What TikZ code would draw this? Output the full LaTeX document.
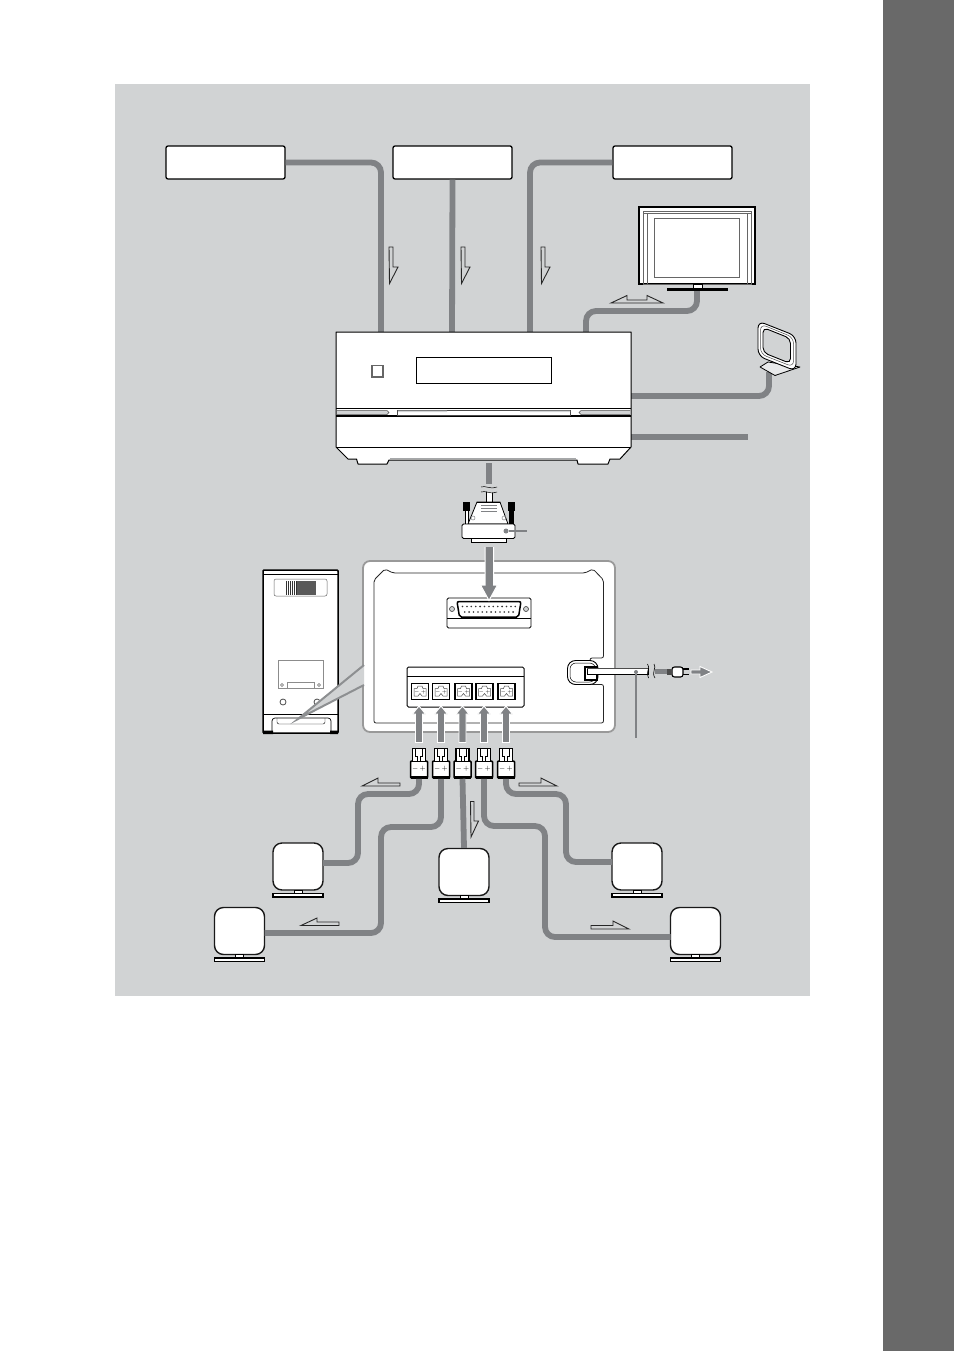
\documentclass[tikz,border=0pt]{standalone}
\usetikzlibrary{arrows.meta}
\definecolor{panelbg}{HTML}{D1D3D4}
\definecolor{cablegray}{HTML}{808285}
\definecolor{stripgray}{HTML}{696969}
\tikzset{
    srcbox/.style={draw=black, fill=white, rounded corners=2, line width=1.3, minimum width=119, minimum height=33, inner sep=0},
    cable/.style={draw=cablegray, line width=5.8, rounded corners=10},
    flowarrow/.style={draw=black!85, fill=panelbg, line width=0.9, line join=miter},
    spkbox/.style={draw=black!90, fill=white, rounded corners=9, line width=1.4, minimum width=50, minimum height=47, inner sep=0},
    plugbox/.style={draw=black, fill=white, line width=1.5, rounded corners=1, minimum width=17, minimum height=17, inner sep=0},
    sockbox/.style={draw=black, fill=white, line width=1.8, minimum width=17, minimum height=16, inner sep=0},
    feedarrow/.style={draw=white, fill=cablegray, line width=0.9, line join=miter},
    pointer/.style={draw=cablegray, line width=1.8}
}
\begin{document}
\begin{tikzpicture}[x=1pt, y=-1pt]
    \useasboundingbox (0,0) rectangle (954,1351);
    \fill [stripgray] (883,0) rectangle (954,1351);
    \fill [panelbg] (115,84) rectangle (809.5,996);

    \node [srcbox] (srcA) at (225.5,162.5) {};
    \node [srcbox] (srcB) at (452.5,162.5) {};
    \node [srcbox] (srcC) at (672.5,162.5) {};

    \coordinate (recvA) at (381,333);
    \coordinate (recvB) at (452,333);
    \coordinate (recvC) at (530,333);
    \coordinate (recvD) at (586,333);
    \coordinate (recvE) at (631,396);
    \coordinate (recvF) at (631,437);
    \coordinate (recvG) at (489,463);
    \coordinate (tvIn) at (697,291);
    \coordinate (antIn) at (769,372);
    \coordinate (lineEnd) at (748,437);
    \coordinate (breakTop) at (489,484);

    \draw [cable] (srcA.east) -| (recvA);
    \draw [cable] (srcB.south) -- (recvB);
    \draw [cable] (srcC.west) -| (recvC);
    \draw [cable] (tvIn) |- (640,311) -| (recvD);
    \draw [cable] (antIn) |- (recvE);
    \draw [cable] (recvF) -- (lineEnd);
    \draw [cable] (recvG) -- (breakTop);

    \foreach \x in {389,461,541}
        \draw [flowarrow] (\x,247) -- (\x+4,247) -- (\x+4,267) -- (\x+9,267) -- (\x+0.5,283.5) -- cycle;
    \draw [flowarrow] (611,303) -- (627,295.5) -- (627,300) -- (647,300) -- (647,295.5) -- (663,303) -- cycle;

    % receiver
    \draw [fill=white, line width=1, line join=round] (336,332) -- (631,332) -- (631,447) -- (620,459) -- (610,459) -- (608,464) -- (578,464) -- (577,460) -- (389,460) -- (387,464) -- (358,464) -- (356.5,459) -- (348,459) -- (336,447) -- cycle;
    \draw [line width=0.8] (336,447) -- (631,447);
    \draw [cablegray!70, line width=1.2] (390,458.5) -- (576,458.5);
    \draw [line width=1.4] (336,408.5) -- (631,408.5);
    \draw [line width=1.6] (336,416) -- (631,416);
    \fill [white] (337,409.5) rectangle (630,415);
    \draw [black!70, line width=0.5, fill=panelbg] (337,410.5) -- (387,410.5) -- (389,412.5) -- (387,414.5) -- (337,414.5);
    \draw [black!70, line width=0.5, fill=panelbg] (630,410.5) -- (581,410.5) -- (579,412.5) -- (581,414.5) -- (630,414.5);
    \draw [black!70, line width=0.5] (397,410) -- (570,410) -- (570,415) -- (397,415) -- cycle;
    \fill [panelbg] (398,410.5) rectangle (447,412) (520,410.5) rectangle (570,412);
    \draw [black!60, line width=1.6, fill=white] (372,365.5) rectangle (383,377);
    \draw [line width=0.7, fill=white] (416,357) rectangle (551,383);

    % cable break and connector
    \draw [fill=white, line width=0.6] (486,491) -- (486,503) -- (492,503) -- (492,491);
    \fill [panelbg] (484,486) .. controls (487,485) and (491,489) .. (496,487) -- (496,492) .. controls (491,494) and (487,490) .. (481,492) -- cycle;
    \draw [line width=0.5] (481,487) .. controls (485,485) and (491,490) .. (497,487);
    \draw [line width=0.5] (481,492) .. controls (485,490) and (491,495) .. (497,492);
    \draw [fill=black] (463,502) rectangle (469,510);
    \draw [fill=black] (508,502) rectangle (514,510);
    \draw [fill=white, line width=0.6] (465,510) rectangle (468,525);
    \draw [fill=black, line width=0.6] (509,510) rectangle (513,525);
    \draw [fill=white, line width=0.8] (477,502) -- (500,502) -- (508,524) -- (468,524) -- cycle;
    \draw [line width=1.4] (477,502.5) -- (500,502.5);
    \foreach \y in {505.5,508.5,511}
        \draw [cablegray, line width=0.9] (481,\y) -- (497,\y);
    \draw [cablegray, line width=0.5] (473,518) circle (2) (504,518) circle (2);
    \draw [fill=white, line width=0.8] (471,538) rectangle (506,542);
    \draw [fill=white, line width=0.9, rounded corners=1.5] (462,524) rectangle (515,538.5);
    \coordinate (tagEnd) at (527,531);
    \node [circle, fill=cablegray, inner sep=0, minimum size=5] (tagDot) at (506,531) {};
    \draw [pointer] (tagDot) -- (tagEnd);

    % tv
    \draw [fill=white, line width=1.6] (639,207) rectangle (755,284);
    \draw [line width=0.5, black!60] (643,211) rectangle (751,284);
    \draw [line width=0.5, black!60] (647,213) -- (647,284) (747,213) -- (747,284) (643,213) -- (751,213);
    \draw [line width=0.7, black!60] (654,218) rectangle (739,277);
    \draw [fill=white, line width=0.5] (693,284) rectangle (702,289);
    \fill [black] (667,288) rectangle (728,291);

    % antenna
    \draw [line width=0.8, fill=panelbg!50!white, line join=round] (760,367) -- (768,362) -- (800,367) -- (775,375.5) -- cycle;
    \draw [line width=0.9, fill=white, rounded corners=7] (758,321) -- (796,336) -- (796,371) -- (758,356) -- cycle;
    \draw [line width=0.9, fill=panelbg, rounded corners=5] (763,327.5) -- (790.5,338.5) -- (790.5,363.5) -- (763,352.5) -- cycle;
    \draw [line width=0.5, black!70, rounded corners=6] (760.5,324) -- (793.5,337.5) -- (793.5,367) -- (760.5,354) -- cycle;

    % subwoofer
    \draw [fill=white, line width=1.5, rounded corners=1] (263,570) rectangle (338,733);
    \draw [line width=0.8] (263,574) -- (338,574);
    \draw [line width=0.5, black!60, rounded corners=2] (274,579) rectangle (327,596);
    \fill [black!65] (296,581) rectangle (316,595);
    \foreach \x in {286,288,...,296}
        \draw [black!80, line width=0.8] (\x,581) -- (\x,595);
    \draw [line width=0.5, black!45] (278,660) rectangle (323,688);
    \draw [line width=0.5, black!45] (287,688) -- (287,682) -- (314,682) -- (314,688);
    \draw [black!60, line width=0.6] (282,685) circle (1.5) (319,685) circle (1.5);
    \draw [black!70, line width=0.8] (283,702) circle (3) (317,702) circle (3);
    \draw [line width=1] (263,714) -- (338,714);
    \draw [line width=0.7, rounded corners=3] (272,733) -- (272,718) -- (331,718) -- (331,733);
    \draw [line width=0.4, rounded corners=2] (277,718) -- (277,724) -- (325,724) -- (325,718);
    \fill [black] (263,730.5) rectangle (273,734) (330,730.5) rectangle (338,734);

    % amplifier panel and callout
    \draw [draw=black!40, fill=white, line width=1.8, rounded corners=7] (363,561) rectangle (615,732);
    \draw [draw=black!85, fill=white, line width=0.8, rounded corners=2] (374,580) -- (385,569) -- (393,573) -- (585,573) -- (593,569) -- (603.5,580) -- (603.5,658) -- (590,658) -- (590,684.5) -- (603.5,684.5) -- (603.5,723) -- (374,723) -- cycle;
    \coordinate (calloutTip) at (298,719);
    \fill [panelbg] (calloutTip) -- (364,665) -- (364,685) -- cycle;
    \draw [cablegray!90, line width=2] (364,665) -- (calloutTip) -- (364,685);

    % sub-d socket
    \draw [fill=white, line width=0.8, rounded corners=1.5] (447,598) rectangle (531,628);
    \draw [line width=0.5] (447,618) -- (531,618);
    \draw [fill=white, line width=1.5, rounded corners=2] (457,601.5) -- (521,601.5) -- (518.5,617) -- (459.5,617) -- cycle;
    \foreach \x in {452,526}
        \draw [black!70, fill=panelbg, line width=0.7] (\x,609) circle (2.5);
    \foreach \i in {0,...,12}
        \fill [black!80] (462.5+\i*4.4,606.5) circle (0.9);
    \foreach \i in {0,...,11}
        \fill [black!80] (464.7+\i*4.4,612) circle (0.9);
    \draw [feedarrow, line width=1] (485,547) -- (485,585) -- (480.5,585) -- (489,600.5) -- (497.5,585) -- (493.5,585) -- (493.5,547);

    % terminal block
    \draw [fill=white, line width=1, rounded corners=1.5] (407,667) rectangle (524,707);
    \draw [line width=0.5] (407,676) -- (524,676);
    \foreach \x/\name in {420/sockA,441/sockB,463.5/sockC,484.5/sockD,506.5/sockE} {
        \node [sockbox] (\name) at (\x,691.5) {};
        \draw [line width=0.5, black!70] (\x-6,696) -- (\x-6,688.5) -- (\x-3,688.5) -- (\x-2,686) -- (\x+2,686) -- (\x+3,688.5) -- (\x+6,688.5) -- (\x+6,696) -- (\x+2,696) -- (\x,693.5) -- (\x-2,696) -- cycle;
        \node [font=\fontsize{5}{5}\selectfont, inner sep=0] at (\x,692) {$\scriptstyle -\,+$};
    }

    % mains cord
    \draw [fill=white, line width=0.9, rounded corners=8] (567.5,660.5) rectangle (598,684.5);
    \draw [line width=0.5, rounded corners=6] (570,663) rectangle (595.5,682);
    \draw [fill=white, line width=1.2] (585,667) rectangle (597,680);
    \draw [fill=white, line width=0.8] (587,668.5) -- (648,668.5) -- (648,674.5) -- (587,674.5) -- cycle;
    \draw [black!70, line width=1.4] (587,668.5) -- (648,668.5);
    \draw [line width=0.6] (647.5,664) .. controls (651,668) and (645,672) .. (648.5,678);
    \draw [line width=0.6] (654,664) .. controls (657,668) and (651,672) .. (655,678);
    \coordinate (plugTail) at (667,671.5);
    \draw [draw=cablegray, line width=5] (655,671.5) -- (plugTail);
    \node [draw=black, fill=white, line width=1.1, rounded corners=2.5, minimum width=11, minimum height=10, inner sep=0] (mainsPlug) at (677.5,672) {};
    \fill [black!70] (667,669) rectangle (672,675);
    \draw [line width=1.2] (683,669) -- (689,669) (683,674.5) -- (689,674.5);
    \draw [feedarrow] (691,670) -- (700,670) -- (700,666.5) -- (712,672) -- (700,677.5) -- (700,674) -- (691,674) -- cycle;
    \coordinate (cordTag) at (636,738);
    \node [circle, fill=cablegray, inner sep=0, minimum size=4] (cordDot) at (636,672) {};
    \draw [pointer] (cordDot) -- (cordTag);

    % plugs
    \foreach \x/\name in {419/plugA,441/plugB,462.5/plugC,484/plugD,506/plugE} {
        \draw [feedarrow] (\x-3.5,742.5) -- (\x-3.5,714) -- (\x-6.5,714) -- (\x,706) -- (\x+6.5,714) -- (\x+3.5,714) -- (\x+3.5,742.5) -- cycle;
        \node [plugbox] (\name) at (\x,769.5) {};
        \draw [fill=white, line width=1.4] (\x-6.5,761) -- (\x-6.5,748.5) -- (\x+6.5,748.5) -- (\x+6.5,761);
        \draw [line width=0.8] (\x-3.5,749) -- (\x-3.5,756) -- (\x-1.5,756) -- (\x-1.5,761) (\x+3.5,749) -- (\x+3.5,756) -- (\x+1.5,756) -- (\x+1.5,761);
        \fill [black] (\x-8.5,775.5) rectangle (\x+8.5,779);
        \node [font=\fontsize{7}{7}\selectfont, inner sep=0] at (\x,768.5) {$-\,+$};
    }

    % speakers
    \foreach \x/\y/\name in {298/866.5/spkA,239.5/931/spkB,464/872/spkC,637/866.5/spkD,695.5/931/spkE} {
        \node [spkbox] (\name) at (\x,\y) {};
        \draw [fill=white, line width=0.6] (\x-4,\y+23.5) rectangle (\x+4,\y+27);
        \draw [fill=white, line width=1.1] (\x-25,\y+27) rectangle (\x+25,\y+30.5);
    }
    \coordinate (spkAin) at (323,863);
    \coordinate (spkBin) at (264.5,933);
    \coordinate (spkDin) at (612,862);
    \coordinate (spkEin) at (670.5,937);
    \draw [cable] (plugA.south) |- (358,794) |- (spkAin);
    \draw [cable] (plugB.south) |- (381,827) |- (spkBin);
    \draw [cable] (plugC.south) -- (spkC.north);
    \draw [cable] (plugD.south) |- (545,826) |- (spkEin);
    \draw [cable] (plugE.south) |- (566,794) |- (spkDin);

    \draw [flowarrow] (362,786) -- (378,778) -- (378,783) -- (400,783) -- (400,786) -- cycle;
    \draw [flowarrow] (301,925.5) -- (317,918) -- (317,922) -- (339,922) -- (339,925.5) -- cycle;
    \draw [flowarrow] (557,786) -- (541,778) -- (541,783) -- (519,783) -- (519,786) -- cycle;
    \draw [flowarrow] (629,929) -- (613,921) -- (613,925.5) -- (591,925.5) -- (591,929) -- cycle;
    \draw [flowarrow] (470.5,801.5) -- (474,801.5) -- (474,821) -- (478.5,821) -- (471,837) -- cycle;
\end{tikzpicture}
\end{document}
